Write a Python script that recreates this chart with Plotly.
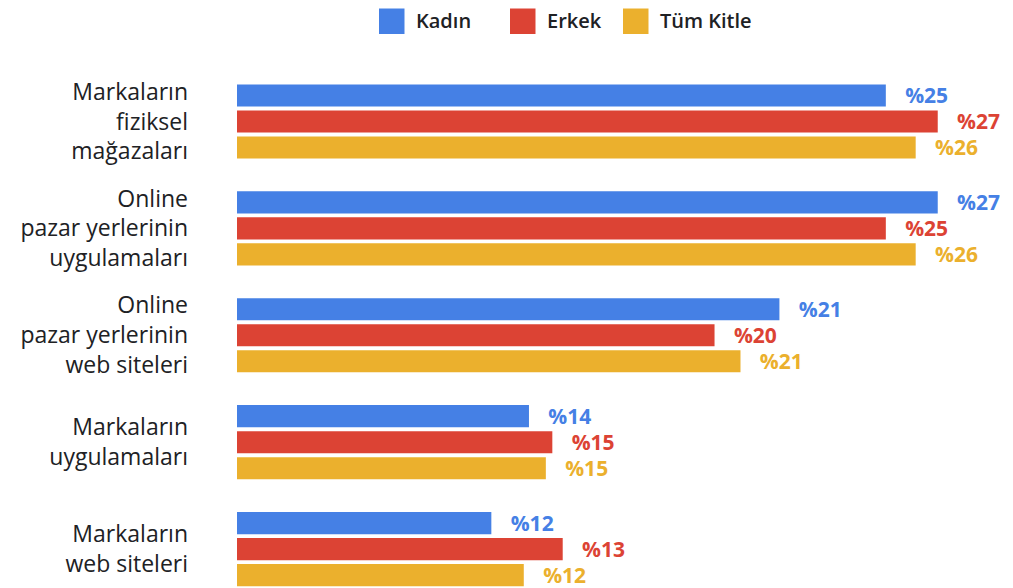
import plotly.graph_objects as go

categories = [
    "Markaların<br>fiziksel<br>mağazaları",
    "Online<br>pazar yerlerinin<br>uygulamaları",
    "Online<br>pazar yerlerinin<br>web siteleri",
    "Markaların<br>uygulamaları",
    "Markaların<br>web siteleri",
]
series_names = ["Kadın", "Erkek", "Tüm Kitle"]
series_colors = ["#4580E5", "#DC4334", "#EBB02D"]

kadin_values = [25.0, 27.0, 20.9, 11.25, 9.8]
erkek_values = [27.0, 25.0, 18.4, 12.15, 12.55]
tum_values = [26.15, 26.15, 19.4, 11.9, 11.05]

# printed labels
kadin_labels = ["%25", "%27", "%21", "%14", "%12"]
erkek_labels = ["%27", "%25", "%20", "%15", "%13"]
tum_labels = ["%26", "%26", "%21", "%15", "%12"]

values = [kadin_values, erkek_values, tum_values]
labels = [kadin_labels, erkek_labels, tum_labels]

FONT = "Open Sans"
W, H = 1005, 580          # page adds an 8px body margin
ML, MT = 229, 52
PW, PH = W - ML, H - MT

fig = go.Figure()
for name, color, vals, labs in zip(series_names, series_colors, values, labels):
    fig.add_trace(go.Bar(
        name=name,
        y=categories,
        x=vals,
        orientation="h",
        marker=dict(color=color, line=dict(width=0)),
        text=["\u00a0\u00a0\u00a0" + t for t in labs],
        textposition="outside",
        constraintext="none",
        cliponaxis=False,
        textfont=dict(family=FONT, size=21, color=color, weight="bold"),
        showlegend=False,
        hoverinfo="skip",
    ))

# legend drawn as squares + text above the plot (page px -> paper coords)
legend_square_px = [379, 510, 623]
shapes, annotations = [], []
for name, color, px in zip(series_names, series_colors, legend_square_px):
    fx = px - 8
    x0 = (fx - ML) / PW
    x1 = (fx + 25.5 - ML) / PW
    y0 = (H - (34 - 8)) / PH
    y1 = (H - (8.5 - 8)) / PH
    shapes.append(dict(type="rect", xref="paper", yref="paper", x0=x0, x1=x1,
                       y0=y0, y1=y1, fillcolor=color, line=dict(width=0)))
    annotations.append(dict(xref="paper", yref="paper", x=(fx + 35 - ML) / PW,
                            y=(H - (20 - 8)) / PH, xanchor="left", yanchor="middle",
                            text=name, showarrow=False,
                            font=dict(family=FONT, size=20, color="#202124", weight=600)))

fig.update_layout(
    width=W, height=H,
    margin=dict(l=ML, r=0, t=MT, b=0),
    paper_bgcolor="white", plot_bgcolor="white",
    barmode="group", bargap=0.27, bargroupgap=0.15,
    showlegend=False,
    shapes=shapes, annotations=annotations,
    font=dict(family=FONT, color="#202124"),
    xaxis=dict(range=[0, 29.9], visible=False, showgrid=False, zeroline=False, fixedrange=True),
    yaxis=dict(range=[4.364, -0.575], showgrid=False, zeroline=False, showline=False,
               ticks="", ticklabelstandoff=48,
               tickfont=dict(family=FONT, size=23, color="#202124")),
)

fig.write_html("out.html")
